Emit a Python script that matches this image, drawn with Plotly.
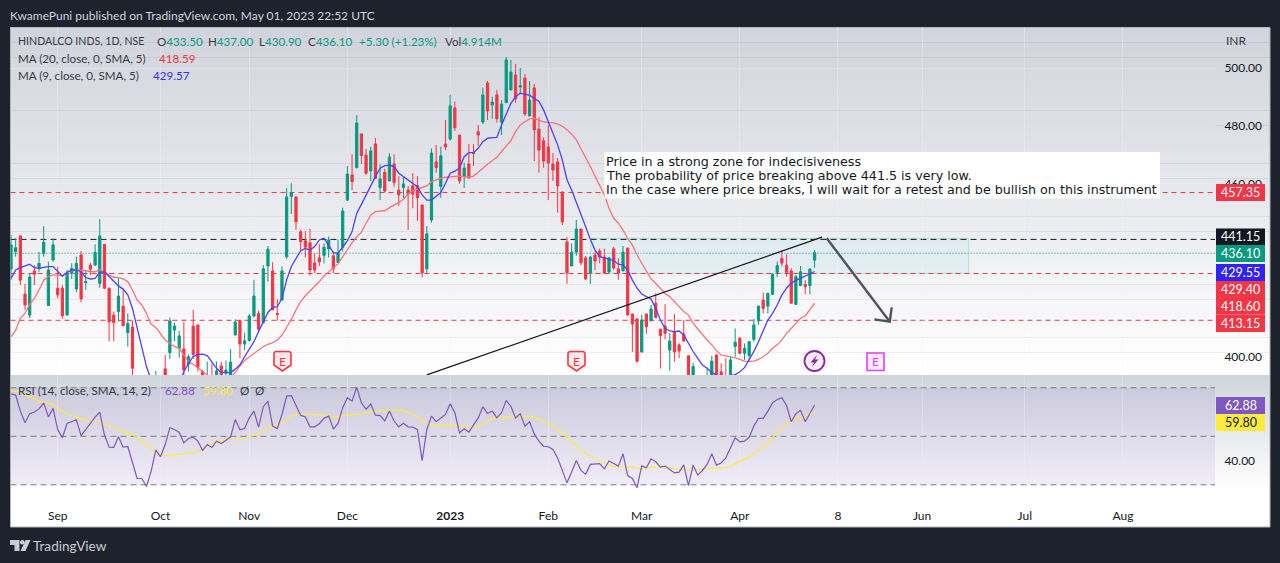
import plotly.graph_objects as go

W, H = 1280, 563

# ---------- chart data ----------
opens = [430.4,436.4,441.9,421.8,414.5,429.8,430.7,435.9,417.8,433.6,
423.8,423.8,414.5,428.9,423.5,435.3,425.7,431.8,431.8,425.5,
439.0,423.8,414.5,415.7,417.6,408.4,410.4,393.0,389.0,386.0,
383.0,386.0,391.0,395.9,401.5,409.3,403.0,402.8,397.5,410.7,
411.1,394.9,389.0,393.0,389.0,396.9,394.4,390.0,407.6,412.6,
404.5,405.7,414.2,415.1,411.9,431.5,429.8,415.1,419.7,434.7,
455.5,455.4,443.3,440.2,439.5,432.5,434.3,435.1,437.4,435.0,
432.7,438.0,454.3,463.0,465.5,477.2,469.9,464.4,473.7,458.6,
463.9,460.9,466.8,457.8,458.6,457.8,459.2,459.3,452.6,430.5,
447.4,467.5,459.0,473.7,475.4,486.2,476.8,462.6,466.8,470.7,
477.9,481.3,494.8,487.2,490.7,481.3,488.0,492.4,497.6,493.4,
496.5,483.4,493.1,478.9,474.8,472.7,466.8,467.5,457.1,439.8,
431.5,436.3,444.3,434.3,429.1,435.3,436.7,434.6,429.4,437.4,
430.5,429.8,437.7,414.9,413.2,401.7,414.9,412.6,418.6,409.6,
410.7,402.4,408.8,404.2,407.9,400.4,388.0,390.0,388.0,390.0,
391.0,400.7,394.9,392.0,390.0,403.6,406.5,401.3,400.5,406.1,
412.5,419.7,417.6,421.7,429.3,434.1,431.8,429.8,418.2,424.7,
425.1,424.7,433.5]

highs = [442.2,441.1,441.9,425.3,428.9,431.8,436.4,445.3,433.0,441.1,
431.2,424.9,430.1,432.4,434.7,436.7,430.1,432.6,439.0,447.7,
439.0,424.0,415.7,427.2,423.2,415.1,412.5,393.5,392.0,390.0,
388.0,395.2,393.0,400.7,413.7,411.9,409.0,412.2,400.9,416.3,
411.1,395.5,398.4,397.8,398.4,398.4,398.8,402.7,413.0,412.6,
408.4,414.9,426.7,416.0,431.8,438.4,432.8,420.0,431.3,458.4,
460.1,455.4,444.0,443.6,444.3,435.9,439.0,439.3,441.7,436.5,
440.7,451.7,466.1,470.1,483.7,477.2,472.0,472.8,475.8,466.7,
465.1,470.5,470.1,462.6,462.4,459.2,463.6,462.6,452.6,445.3,
472.2,473.4,472.8,482.0,490.7,488.4,476.8,467.2,473.7,473.7,
480.3,493.1,495.5,490.1,492.4,488.9,503.8,502.8,501.4,500.0,
497.9,495.5,494.5,482.9,476.0,480.3,470.6,468.9,457.1,441.4,
439.3,447.4,444.3,434.9,434.9,436.5,437.5,437.5,434.5,438.1,
434.2,438.4,437.7,414.9,413.2,414.6,414.9,418.0,422.0,409.8,
418.3,408.2,414.9,404.7,412.8,400.6,398.0,393.0,392.0,396.4,
400.4,400.9,397.8,399.5,400.4,409.9,406.8,404.7,405.5,413.2,
417.8,422.3,422.3,429.0,433.0,436.8,435.5,430.7,428.4,431.5,
426.6,430.7,437.0]

lows = [426.6,434.7,424.9,416.3,413.4,424.9,429.5,434.7,417.8,433.0,
420.3,413.2,414.5,427.0,422.4,418.9,423.2,428.4,431.6,424.0,
423.5,405.5,405.5,412.2,410.8,403.6,392.0,386.0,384.0,380.0,
379.0,383.0,385.0,385.0,399.3,405.5,399.8,392.0,394.9,399.5,
394.9,386.0,386.0,387.0,386.0,387.0,391.0,388.0,407.6,399.6,
402.4,405.3,413.7,408.8,411.7,426.1,416.3,412.6,419.7,433.9,
449.5,444.0,436.5,434.4,428.2,429.0,431.5,432.4,434.4,429.0,
432.7,436.5,454.0,457.8,465.3,466.8,463.0,460.9,461.6,454.3,
457.0,460.9,458.9,452.3,454.9,444.0,451.5,447.1,427.5,429.0,
446.5,463.8,455.1,471.6,474.9,478.2,459.9,458.5,461.9,466.1,
473.0,480.6,482.0,482.4,481.1,476.8,488.0,492.4,488.0,490.9,
483.4,483.4,467.8,463.8,465.5,454.3,460.9,450.0,445.7,425.3,
431.5,435.0,431.8,426.7,425.3,430.1,432.4,428.8,429.0,430.1,
426.7,429.8,414.2,401.8,398.1,401.7,408.0,412.2,413.7,396.0,
406.1,395.3,398.4,399.6,405.3,389.0,386.0,386.0,385.0,387.0,
388.0,390.0,388.0,386.0,388.0,400.1,400.9,399.0,398.4,405.3,
411.1,415.1,415.1,421.5,427.6,431.3,427.8,418.6,418.2,424.7,
421.7,421.7,430.9]

closes = [438.8,437.8,426.6,418.0,427.7,428.6,432.4,439.7,430.1,438.8,
421.5,414.3,428.9,430.7,432.4,420.1,426.1,430.4,436.2,441.9,
423.8,412.2,411.9,421.1,410.8,411.6,396.1,388.0,386.0,382.0,
386.0,391.0,387.0,388.0,412.5,410.7,407.3,395.5,400.1,400.9,
396.4,388.0,393.0,389.0,395.2,390.0,395.5,398.2,412.1,404.5,
405.6,414.2,421.1,409.6,430.5,437.3,416.3,414.7,429.8,455.4,
456.9,446.8,439.9,438.0,430.1,430.1,432.9,438.0,440.5,430.5,
435.9,450.5,463.3,460.7,481.0,469.7,463.6,471.3,461.8,461.6,
457.4,469.2,460.4,456.1,459.9,456.4,456.4,455.1,429.1,442.6,
470.6,465.5,469.6,472.7,486.9,479.3,460.9,465.4,461.9,470.4,
476.8,490.7,485.1,488.2,482.4,487.5,502.8,498.6,489.3,493.8,
484.1,488.9,478.6,471.6,467.8,467.1,464.7,459.2,446.7,429.1,
436.3,444.3,432.6,427.0,434.6,433.2,434.6,429.1,434.3,430.8,
429.1,436.3,414.6,411.4,398.5,412.8,410.5,416.6,413.7,407.4,
408.2,405.5,401.8,402.1,405.5,392.0,396.7,388.0,390.0,392.0,
398.6,392.0,390.0,389.0,399.0,405.1,401.3,403.0,405.3,411.1,
417.6,416.8,422.0,428.6,431.6,432.5,429.3,418.6,427.8,429.5,
424.3,430.4,436.1]

ma20 = [407.0,409.3,413.4,415.1,418.2,420.3,423.2,426.6,427.8,428.4,
428.4,428.0,429.3,429.9,430.1,430.1,429.9,429.5,429.5,430.1,
429.5,428.4,427.6,427.5,427.0,426.1,423.2,419.7,418.0,415.1,
411.3,410.2,407.9,405.9,404.7,403.6,403.0,400.7,398.4,397.5,
396.3,394.9,393.8,393.2,393.0,392.8,392.7,392.9,394.6,396.9,
398.8,400.0,401.3,402.4,403.6,404.4,405.0,405.9,407.6,410.3,
413.0,416.3,419.2,421.2,422.8,424.4,426.1,428.0,429.5,430.7,
432.2,434.7,437.3,439.6,441.6,443.2,446.3,449.1,450.3,450.5,
450.6,451.7,452.6,453.4,454.6,456.4,457.6,458.1,458.6,459.2,
460.7,461.3,461.8,462.2,462.4,462.5,462.6,462.4,462.2,462.6,
464.1,465.3,466.7,467.8,469.1,471.1,473.0,474.9,478.0,480.3,
481.4,482.4,482.6,482.0,481.4,481.1,481.1,480.6,479.9,478.6,
477.1,475.1,472.2,469.3,465.9,462.6,459.5,456.1,451.5,448.0,
446.3,443.9,441.0,438.7,435.3,432.4,429.5,427.0,425.5,423.8,
422.0,420.9,419.2,417.4,415.7,414.5,411.7,409.7,407.6,405.9,
404.2,402.2,400.7,400.4,399.9,399.7,399.2,398.6,398.4,398.6,
399.2,400.1,401.3,403.0,404.2,405.9,408.2,409.9,411.7,413.4,
414.2,416.3,418.6]

ma9 = [427.2,430.1,430.9,431.5,432.1,430.9,430.7,431.0,431.3,431.3,
429.5,428.0,429.3,430.1,430.1,429.5,427.5,427.0,427.2,429.3,
429.5,427.8,426.1,424.6,423.5,421.5,416.8,409.9,403.0,396.7,
392.0,390.0,389.0,388.0,388.0,389.0,391.0,394.9,397.8,400.1,
400.9,401.0,400.5,398.4,396.1,394.6,394.6,394.6,395.8,397.3,
400.1,402.7,405.3,408.8,411.9,415.4,417.2,417.4,420.3,426.7,
431.3,434.2,436.8,437.6,437.0,438.2,440.5,441.1,438.8,436.1,
435.9,438.2,440.2,443.4,449.7,452.8,456.1,458.9,462.4,465.3,
466.2,466.4,465.9,463.6,462.4,461.3,459.9,458.9,456.1,454.3,
454.3,455.5,456.9,460.1,463.6,464.3,465.3,469.3,470.7,470.7,
472.2,474.5,475.7,475.9,476.0,480.3,484.3,487.8,490.1,491.3,
490.9,490.6,489.5,488.4,485.5,481.4,476.8,473.4,468.2,461.3,
457.8,453.8,449.2,445.1,440.7,437.0,434.7,434.2,433.8,433.4,
432.1,431.8,430.1,426.6,423.8,421.8,420.9,420.1,416.8,412.8,
409.9,409.0,408.8,409.0,407.6,404.7,401.9,399.5,397.2,396.1,
394.6,393.8,392.5,392.5,393.5,393.9,394.9,396.3,399.0,401.9,
405.3,409.3,412.8,415.1,418.0,421.5,423.8,425.5,426.6,427.2,
428.0,428.6,429.57]

rsi = [67.5,67.0,60.4,55.6,59.3,60.0,61.3,63.8,58.0,61.5,
52.8,49.4,55.3,56.0,56.8,50.3,52.8,55.6,57.9,60.0,
50.5,45.5,45.4,49.8,45.5,45.8,39.0,32.6,32.6,29.3,
35.6,44.4,41.5,46.6,53.5,52.8,51.6,47.3,49.1,49.6,
48.0,44.2,46.6,45.4,48.0,47.0,48.4,49.8,56.9,52.7,
53.2,57.6,60.4,53.8,62.2,64.5,54.2,53.2,59.0,66.6,
66.8,62.4,58.7,58.0,53.9,53.9,55.2,57.4,58.3,53.0,
55.3,61.8,65.9,64.5,70.3,63.8,61.1,63.4,58.7,58.5,
56.3,60.4,56.3,53.9,55.4,53.9,53.8,52.7,40.0,52.8,
58.3,56.0,57.6,59.0,63.4,59.7,51.4,53.1,51.7,54.9,
57.6,62.2,59.4,60.4,57.6,59.7,64.8,62.4,57.6,59.3,
54.2,56.0,51.0,48.0,45.9,45.7,44.6,41.1,36.3,30.8,
35.3,40.0,35.9,34.3,38.4,38.4,38.7,36.6,39.8,38.8,
37.7,42.8,33.8,32.6,28.8,37.8,37.0,40.7,39.5,37.3,
37.7,36.3,34.9,35.2,38.2,29.7,38.1,34.0,35.9,38.4,
42.8,38.1,39.0,41.1,45.3,49.4,47.7,48.0,49.6,54.2,
57.4,57.4,60.4,63.8,65.2,65.9,62.7,56.0,59.3,60.7,
56.0,59.7,62.88]

rsi_ma = [68.6,68.6,68.6,67.3,66.3,65.2,64.5,64.1,63.7,63.1,
61.5,60.4,59.4,58.6,57.9,57.2,56.7,56.3,56.3,56.3,
55.3,54.5,53.5,52.5,52.0,51.6,50.8,49.0,48.0,46.2,
45.0,43.9,42.5,41.8,42.1,42.5,42.8,42.8,43.1,43.3,
43.9,44.6,45.9,47.0,48.0,48.1,48.7,49.0,49.0,49.1,
49.4,49.8,50.3,51.0,52.1,53.5,53.9,54.6,55.6,56.9,
58.3,58.9,59.1,59.3,59.1,58.9,58.7,58.7,58.5,58.0,
58.0,58.6,58.7,58.9,59.0,59.3,59.7,60.1,60.4,60.5,
60.7,60.7,60.7,60.7,60.7,60.0,59.3,58.3,56.3,55.2,
54.9,54.5,54.2,54.6,54.9,54.5,54.2,54.0,53.9,53.9,
54.2,54.7,56.3,57.2,57.5,57.8,58.0,58.2,58.2,58.2,
58.3,58.3,57.9,57.2,56.3,55.3,54.3,52.8,51.4,49.4,
47.6,45.7,44.2,42.9,41.8,40.7,39.8,38.9,38.1,37.6,
37.4,37.4,37.4,37.3,36.9,36.6,36.7,37.3,37.3,37.3,
37.1,37.0,36.7,36.5,36.2,35.9,35.9,36.2,36.5,36.7,
36.9,36.9,36.9,37.1,37.7,38.7,39.6,40.6,41.3,42.8,
44.2,45.7,47.3,49.4,51.7,53.8,55.2,56.3,57.4,57.9,
58.3,59.3,59.8]

for name, arr in dict(o=opens, h=highs, l=lows, c=closes, m20=ma20, m9=ma9, r=rsi, rm=rsi_ma).items():
    assert len(arr) == 173, (name, len(arr))

bars = list(range(len(closes)))

tick_bars = [10, 32, 51, 72, 94, 115, 135, 156, 177, 195, 217, 238]
tick_labels = ["Sep", "Oct", "Nov", "Dec", "<b>2023</b>", "Feb", "Mar", "Apr", "8", "Jun", "Jul", "Aug"]

price_ticks = [400, 460, 480, 500]
rsi_ticks = [40]
rsi_levels = [70, 50, 30]

level_red = [456.9, 428.9, 412.7]
level_black = 440.7
level_last = 435.9
zone_bars = [124.1, 205.0]
zone_prices = [428.95, 441.05]
trend_bars = [89.0, 173.6]
trend_prices = [393.8, 441.5]
arrow_bars = [174.6, 188.1]
arrow_prices = [441.1, 412.2]
head_bars = [184.8, 188.1, 188.5]
head_prices = [413.0, 412.2, 417.2]

note_lines = ["Price in a strong zone for indecisiveness",
              "The probability of price breaking above 441.5 is very low.",
              "In the case where price breaks, I will wait for a retest and be bullish on this instrument"]

# price badges: text, colour, text colour, top and bottom pixel of the badge
badges = [("457.35", "#f23645", "#ffffff", 184, 201),
          ("441.15", "#131722", "#ffffff", 228.5, 245),
          ("436.10", "#089981", "#ffffff", 245, 262),
          ("429.55", "#3022ff", "#ffffff", 264, 281),
          ("429.40", "#f23645", "#ffffff", 281, 298),
          ("418.60", "#f23645", "#ffffff", 298, 314.5),
          ("413.15", "#f23645", "#ffffff", 314.5, 332),
          ("62.88", "#7e57c2", "#ffffff", 397, 414),
          ("59.80", "#ffeb3b", "#131722", 414, 431)]

# ---------- styling / layout ----------
FONT = "Lato"
NOTE_FONT = "DejaVu Sans"
UP, DOWN = "#089981", "#f23645"
TXT = "#131722"
FS = 12
LEG = 11.6

PANE_L, PANE_R = 10.5, 1215.0
PRICE_TOP, PRICE_BOT = 27.0, 375.0
RSI_TOP, RSI_BOT = 375.0, 490.0
X_STEP, X0 = 4.672, 11.0
x_range = [(PANE_L - X0) / X_STEP, (PANE_R - X0) / X_STEP]
price_range = [500 - (PRICE_BOT - 68) / 2.89, 500 - (PRICE_TOP - 68) / 2.89]
rsi_range = [50 - (RSI_BOT - 436.3) / 2.425, 50 - (RSI_TOP - 436.3) / 2.425]


def px(x):
    return x / W


def py(y):
    return 1 - y / H


shapes = []


def prect(x0, y0, x1, y1, fill, line=None, layer="below", lw=1):
    shapes.append(dict(type="rect", xref="paper", yref="paper", x0=px(x0), x1=px(x1), y0=py(y0), y1=py(y1),
                       fillcolor=fill, line=dict(width=lw if line else 0, color=line or fill), layer=layer))


def ppath(points, fill="rgba(0,0,0,0)", line=None, lw=1.5, layer="above", close=True):
    d = "M" + " L".join(f"{px(a):.5f},{py(b):.5f}" for a, b in points) + (" Z" if close else "")
    shapes.append(dict(type="path", xref="paper", yref="paper", path=d, fillcolor=fill,
                       line=dict(width=lw if line else 0, color=line or fill), layer=layer))


def gradient(top, bottom):
    n = 46
    for k in range(n):
        t = k / (n - 1)
        col = f"rgb({round(209 + 46 * t)},{round(212 + 43 * t)},{round(220 + 35 * t)})"
        y0 = top + (bottom - top) * k / n
        y1 = top + (bottom - top) * (k + 1) / n
        prect(10, y0, 1270, y1 + 0.5, col)


gradient(27, 375)
gradient(375, 490)
prect(10, 490, 1270, 527, "#ffffff")
prect(10.5, 27.5, 1270, 527, "rgba(0,0,0,0)", line="#b2b5be")

# RSI band and levels
shapes.append(dict(type="rect", xref="x", yref="y2", x0=x_range[0], x1=x_range[1], y0=rsi_levels[2], y1=rsi_levels[0],
                   fillcolor="rgba(126,87,194,0.10)", line=dict(width=0), layer="below"))
for lv in rsi_levels:
    shapes.append(dict(type="line", xref="x", yref="y2", x0=x_range[0], x1=x_range[1], y0=lv, y1=lv,
                       line=dict(color="#787b86", width=1, dash="6px,4px"), layer="below"))

# zone and horizontal levels
shapes.append(dict(type="rect", xref="x", yref="y", x0=zone_bars[0], x1=zone_bars[1], y0=zone_prices[0], y1=zone_prices[1],
                   fillcolor="rgba(165,222,238,0.18)", line=dict(width=1, color="#a8e3d8"), layer="below"))
for lv in level_red:
    shapes.append(dict(type="line", xref="x", yref="y", x0=x_range[0], x1=x_range[1], y0=lv, y1=lv,
                       line=dict(color=DOWN, width=1, dash="5px,4px"), layer="below"))
shapes.append(dict(type="line", xref="x", yref="y", x0=x_range[0], x1=x_range[1], y0=level_black, y1=level_black,
                   line=dict(color=TXT, width=1, dash="6px,4px"), layer="below"))
shapes.append(dict(type="line", xref="x", yref="y", x0=x_range[0], x1=x_range[1], y0=level_last, y1=level_last,
                   line=dict(color=UP, width=1, dash="1px,2px"), layer="below"))

# note box
prect(604.5, 152, 1160, 198.5, "#ffffff", layer="above")

# badges
for _, col, _, top, bot in badges:
    prect(1216, top, 1265, bot, col, layer="above")


# event marks
def shield(cx, top, bot, col):
    ppath([(cx - 8.5, top + 1.5), (cx - 7, top), (cx + 7, top), (cx + 8.5, top + 1.5), (cx + 8.5, bot - 6),
           (cx, bot), (cx - 8.5, bot - 6)], fill="rgba(242,54,69,0.10)", line=col, lw=1.6)


shield(282.5, 351.5, 371, DOWN)
shield(576.5, 351.5, 371, DOWN)
ppath([(867, 353), (884, 353), (884, 370.5), (867, 370.5)], fill="rgba(224,64,251,0.10)", line="#e040fb", lw=1.6)
shapes.append(dict(type="circle", xref="paper", yref="paper", x0=px(804.5), x1=px(824.5), y0=py(371), y1=py(351),
                   fillcolor="rgba(156,39,176,0.06)", line=dict(color="#8e24aa", width=1.8), layer="above"))
ppath([(817.5, 354.5), (810.5, 362.5), (814, 362.5), (811.5, 367.5), (818.5, 359.5), (815, 359.5)], fill="#8e24aa")

# TradingView mark
ppath([(10, 540), (19.5, 540), (19.5, 551), (14.5, 551), (14.5, 545), (10, 545)], fill="#c9cbd1")
shapes.append(dict(type="circle", xref="paper", yref="paper", x0=px(20), x1=px(24.5), y0=py(544.5), y1=py(540),
                   fillcolor="#c9cbd1", line=dict(width=0), layer="above"))
ppath([(25.5, 540), (30.5, 540), (25.5, 551), (20.5, 551)], fill="#c9cbd1")

annots = []


def label(x, y, text, size=FS, color=TXT, anchor="left", font=FONT):
    annots.append(dict(xref="paper", yref="paper", x=px(x), y=py(y), text=text, showarrow=False, xanchor=anchor,
                       yanchor="middle", align="left", font=dict(family=font, size=size, color=color),
                       borderpad=0, borderwidth=0))


label(10, 15, "KwamePuni published on TradingView.com, May 01, 2023 22:52 UTC", color="#d1d4dc")
label(18, 41.5, "HINDALCO INDS, 1D, NSE", size=10.6, color="#363a45")


def ohlc(x, letter, value):
    label(x, 41.5, f"{letter}<span style='color:{UP}'>{value}</span>", size=LEG, color="#363a45")


ohlc(157, "O", "433.50")
ohlc(208, "H", "437.00")
ohlc(259, "L", "430.90")
ohlc(308, "C", "436.10")
label(359, 41.5, "+5.30 (+1.23%)", size=LEG, color=UP)
label(445, 41.5, f"Vol<span style='color:{UP}'>4.914M</span>", size=LEG, color="#363a45")
label(18, 58.5, "MA (20, close, 0, SMA, 5)", size=LEG, color="#363a45")
label(159, 58.5, "418.59", size=LEG, color=DOWN)
label(18, 75.5, "MA (9, close, 0, SMA, 5)", size=LEG, color="#363a45")
label(153, 75.5, "429.57", size=LEG, color="#3a2dff")
label(1226, 41, "INR", color="#363a45")
label(18, 390, "RSI (14, close, SMA, 14, 2)", size=LEG, color="#363a45")
label(165, 390, "62.88", size=LEG, color="#7e57c2")
label(203, 390, "59.80", size=LEG, color="#ffeb3b")
label(240, 390, "Ø", size=LEG, color="#363a45")
label(255, 390, "Ø", size=LEG, color="#363a45")
label(33, 545.5, "TradingView", size=13.6, color="#c9cbd1")

for (x_, y_) in [(282.5, 361), (576.5, 361)]:
    label(x_, y_, "E", size=12, color=DOWN, anchor="center")
label(875.5, 361.5, "E", size=12, color="#e040fb", anchor="center")

for line_text, y_ in zip(note_lines, [161, 175.5, 189.5]):
    label(606, y_, line_text, size=12.7, color=TXT, font=NOTE_FONT)

for text, _, tcol, top, bot in badges:
    label(1240.5, (top + bot) / 2, text, size=12.5, color=tcol, anchor="center")

# ---------- traces ----------
fig = go.Figure()
fig.add_trace(go.Candlestick(x=bars, open=opens, high=highs, low=lows, close=closes,
                             increasing=dict(line=dict(color=UP, width=1), fillcolor=UP),
                             decreasing=dict(line=dict(color=DOWN, width=1), fillcolor=DOWN),
                             whiskerwidth=0, hoverinfo="skip", xaxis="x", yaxis="y", showlegend=False))
fig.add_trace(go.Scatter(x=bars, y=ma20, mode="lines", line=dict(color="#f7747c", width=1.3), hoverinfo="skip",
                         xaxis="x", yaxis="y", showlegend=False))
fig.add_trace(go.Scatter(x=bars, y=ma9, mode="lines", line=dict(color="#4a42ff", width=1.3), hoverinfo="skip",
                         xaxis="x", yaxis="y", showlegend=False))
fig.add_trace(go.Scatter(x=trend_bars, y=trend_prices, mode="lines", line=dict(color=TXT, width=1.2), hoverinfo="skip",
                         xaxis="x", yaxis="y", showlegend=False))
fig.add_trace(go.Scatter(x=arrow_bars, y=arrow_prices, mode="lines", line=dict(color="#50535e", width=2.4), hoverinfo="skip",
                         xaxis="x", yaxis="y", showlegend=False))
fig.add_trace(go.Scatter(x=head_bars, y=head_prices, mode="lines", line=dict(color="#50535e", width=2.4), hoverinfo="skip",
                         xaxis="x", yaxis="y", showlegend=False))
fig.add_trace(go.Scatter(x=bars, y=rsi_ma, mode="lines", line=dict(color="#ffeb3b", width=1.2), hoverinfo="skip",
                         xaxis="x", yaxis="y2", showlegend=False))
fig.add_trace(go.Scatter(x=bars, y=rsi, mode="lines", line=dict(color="#7e57c2", width=1.2), hoverinfo="skip",
                         xaxis="x", yaxis="y2", showlegend=False))

GRID = "rgba(240,243,250,0.35)"
fig.update_layout(
    width=W, height=H, margin=dict(l=0, r=0, t=0, b=0, pad=0), autosize=False,
    paper_bgcolor="#1e222d", plot_bgcolor="rgba(0,0,0,0)", font=dict(family=FONT, size=FS, color=TXT),
    boxgap=0.32, hovermode=False, showlegend=False, shapes=shapes, annotations=annots,
    xaxis=dict(domain=[px(PANE_L), px(PANE_R)], range=x_range, anchor="y2", rangeslider=dict(visible=False),
               tickmode="array", tickvals=tick_bars, ticktext=tick_labels, ticks="outside", ticklen=15,
               tickcolor="rgba(0,0,0,0)", showgrid=True, gridcolor=GRID, zeroline=False, showline=False,
               tickfont=dict(family=FONT, size=FS, color=TXT)),
    yaxis=dict(domain=[py(PRICE_BOT), py(PRICE_TOP)], range=price_range, side="right", anchor="x",
               tickmode="array", tickvals=price_ticks, ticktext=[f"{v:.2f}" for v in price_ticks],
               ticks="outside", ticklen=6, tickcolor="rgba(0,0,0,0)", showgrid=True, gridcolor=GRID,
               zeroline=False, showline=False, tickfont=dict(family=FONT, size=FS, color="#131722")),
    yaxis2=dict(domain=[py(RSI_BOT), py(RSI_TOP)], range=rsi_range, side="right", anchor="x",
                tickmode="array", tickvals=rsi_ticks, ticktext=[f"{v:.2f}" for v in rsi_ticks],
                ticks="outside", ticklen=6, tickcolor="rgba(0,0,0,0)", showgrid=False,
                zeroline=False, showline=False, tickfont=dict(family=FONT, size=FS, color="#131722")),
)
fig.write_html("out.html", config=dict(displayModeBar=False),
               post_script="document.body.style.margin='0';document.body.style.overflow='hidden';document.body.style.background='#1e222d';")
